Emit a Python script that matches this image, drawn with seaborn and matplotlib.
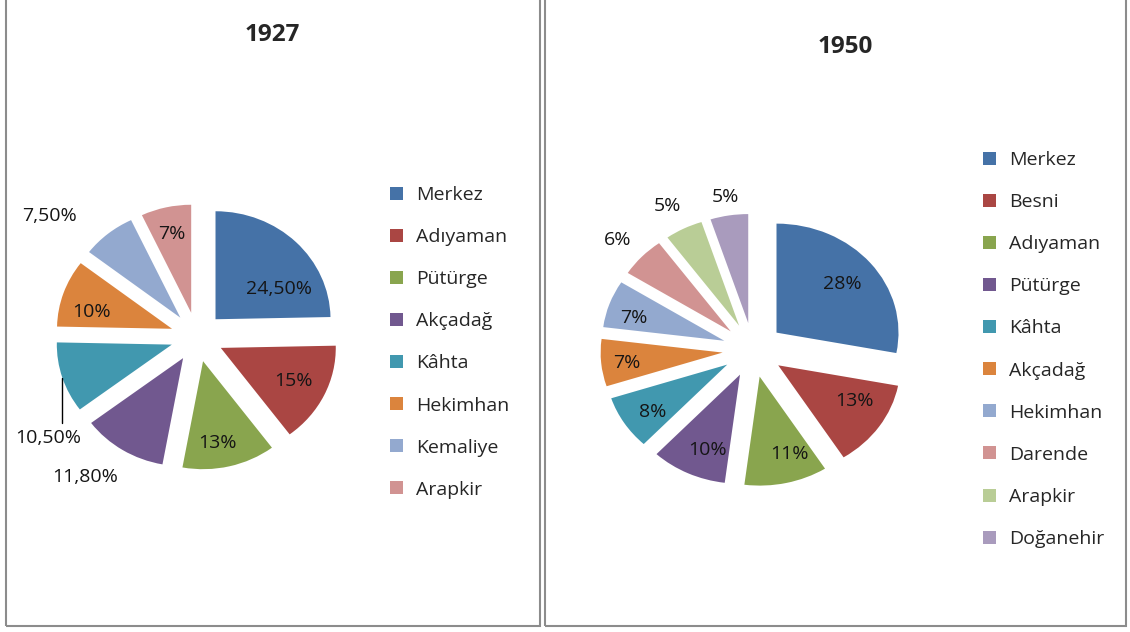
import matplotlib
matplotlib.use("Agg")
import matplotlib.pyplot as plt
from matplotlib.patches import Rectangle
import seaborn as sns
import numpy as np

# 1927 data
names_1927 = ["Merkez", "Adıyaman", "Pütürge", "Akçadağ", "Kâhta", "Hekimhan", "Kemaliye", "Arapkir"]
values_1927 = [24.5, 15, 13, 11.8, 10.5, 10, 7.5, 7]
labels_1927 = ["24,50%", "15%", "13%", "11,80%", "10,50%", "10%", "7,50%", "7%"]

# 1950 data
names_1950 = ["Merkez", "Besni", "Adıyaman", "Pütürge", "Kâhta", "Akçadağ", "Hekimhan", "Darende", "Arapkir", "Doğanehir"]
values_1950 = [28, 13, 11, 10, 8, 7, 7, 6, 5, 5]
labels_1950 = ["28%", "13%", "11%", "10%", "8%", "7%", "7%", "6%", "5%", "5%"]

palette = sns.color_palette(["#4572A7", "#AA4643", "#89A54E", "#71588F", "#4198AF",
                             "#DB843D", "#93A9CF", "#D19392", "#B9CD96", "#A99BBD"])

sns.set_theme(style="white")
plt.rcParams["font.family"] = ["Open Sans", "DejaVu Sans"]

W, H = 1130, 632
L = 1.8
FS = 14
fig = plt.figure(figsize=(W / 100, H / 100), dpi=100)


def pie_axes(cx, cy, rx, ry):
    w, h = 2 * L * rx, 2 * L * ry
    ax = fig.add_axes([(cx - w / 2) / W, (H - cy - h / 2) / H, w / W, h / H])
    ax.patch.set_alpha(0)
    return ax


def draw_pie(ax, values, texts, colors, explode, lab_r, lab_dt):
    wedges, _ = ax.pie(values, colors=colors, startangle=90, counterclock=False,
                       explode=[explode] * len(values), wedgeprops=dict(linewidth=0))
    ax.set_aspect("auto")
    ax.set_xlim(-L, L)
    ax.set_ylim(-L, L)
    ax.axis("off")
    for w, t, r, dt in zip(wedges, texts, lab_r, lab_dt):
        mid = np.deg2rad((w.theta1 + w.theta2) / 2 + dt)
        ax.text(r * np.cos(mid), r * np.sin(mid), t, ha="center", va="center",
                fontsize=FS, color="#151515")
    return wedges


# left panel
ax1 = pie_axes(197, 337, 115, 108)
r1 = [0.84, 0.93, 1.0, 1.62, 1.6, 0.95, 1.7, 0.98]
dt1 = [-14, 0, -3, -5, 18, 5, 10, 0]
w1 = draw_pie(ax1, values_1927, labels_1927, palette[:8], 0.23, r1, dt1)
# leader line for 10,50%
wk = w1[4]
m = np.deg2rad((wk.theta1 + wk.theta2) / 2)
x0 = wk.center[0] + np.cos(m)
y0 = wk.center[1] + np.sin(m)
ax1.plot([x0, x0], [y0, -0.8], color="black", lw=1)

# right panel
ax2 = pie_axes(753, 350, 122, 109)
r2 = [0.95, 0.95, 1.0, 0.99, 1.0, 1.04, 1.02, 1.5, 1.5, 1.42]
dt2 = [0, 5, 5, 3, 2, 1, 3, 1, 1, 0]
w2 = draw_pie(ax2, values_1950, labels_1950, palette[:10], 0.25, r2, dt2)

# titles
fig.text(272 / W, 1 - 35 / H, "1927", ha="center", va="center", fontsize=17.5, fontweight="bold")
fig.text(845 / W, 1 - 47 / H, "1950", ha="center", va="center", fontsize=17.5, fontweight="bold")

# legends
fig.legend(w1, names_1927, loc="upper left", bbox_to_anchor=(390 / W, 1 - 186 / H),
           frameon=False, handlelength=0.65, handleheight=0.65, handletextpad=0.7,
           labelspacing=1.24, borderpad=0, borderaxespad=0, fontsize=FS)
fig.legend(w2, names_1950, loc="upper left", bbox_to_anchor=(983 / W, 1 - 151 / H),
           frameon=False, handlelength=0.65, handleheight=0.65, handletextpad=0.7,
           labelspacing=1.24, borderpad=0, borderaxespad=0, fontsize=FS)

# panel borders
for x0p, x1p in [(6, 540), (545, 1126)]:
    fig.add_artist(Rectangle((x0p / W, 6 / H), (x1p - x0p) / W, (H - 4) / H,
                             transform=fig.transFigure, fill=False, edgecolor="#8c8c8c", lw=1.5))

fig.savefig("out.png", dpi=100)
